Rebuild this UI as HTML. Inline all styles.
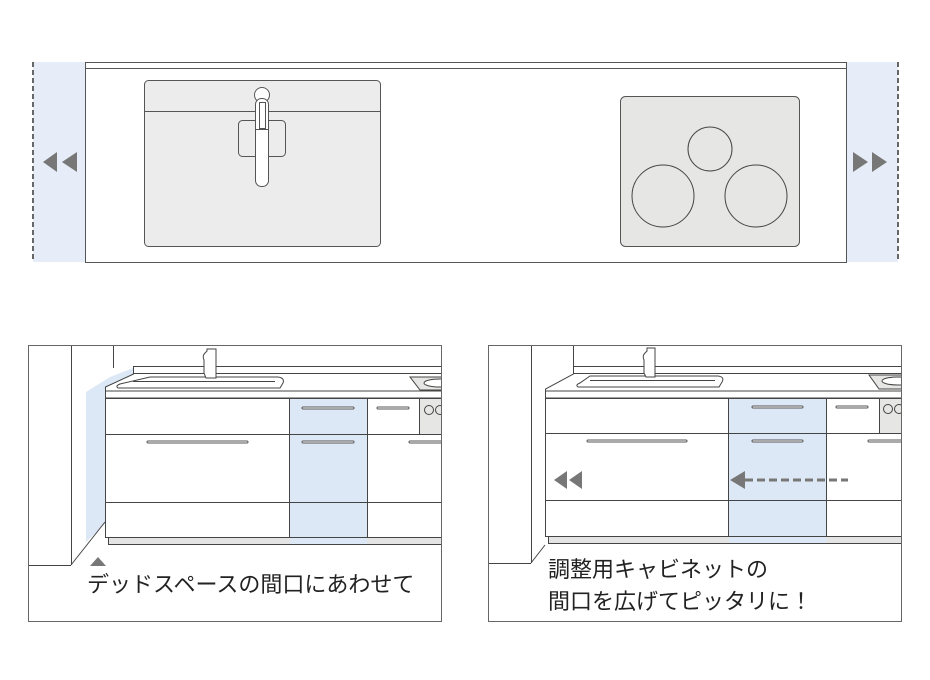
<!DOCTYPE html>
<html><head><meta charset="utf-8"><style>
html,body{margin:0;padding:0;background:#fff;}
svg{display:block}
text{font-family:"Liberation Sans","Noto Sans CJK JP",sans-serif;fill:#222;font-size:22px;}
</style></head><body>
<svg width="930" height="680" viewBox="0 0 930 680" xmlns="http://www.w3.org/2000/svg">
<defs>
<clipPath id="c1"><rect x="28" y="345" width="414" height="277"/></clipPath>
<clipPath id="c2"><rect x="488" y="345" width="414" height="277"/></clipPath>
</defs>
<!-- TOP -->
<rect x="33" y="62" width="52" height="200" fill="#e6edf8"/>
<rect x="846" y="62" width="52" height="200" fill="#e6edf8"/>
<line x1="33" y1="62" x2="33" y2="262" stroke="#666" stroke-width="2" stroke-dasharray="5,3"/>
<line x1="898" y1="62" x2="898" y2="262" stroke="#666" stroke-width="2" stroke-dasharray="5,3"/>
<rect x="85.5" y="62.5" width="761" height="200" fill="#fff" stroke="#555" stroke-width="1"/>
<line x1="85" y1="68.5" x2="846" y2="68.5" stroke="#555"/>
<rect x="144.5" y="80.5" width="236" height="166" rx="4" fill="#ececec" stroke="#555"/>
<line x1="144" y1="111.5" x2="380" y2="111.5" stroke="#555"/>
<rect x="238.5" y="120.5" width="47" height="36" rx="4" fill="#ececec" stroke="#555"/>
<circle cx="262" cy="95" r="7.5" fill="#fff" stroke="#555"/>
<rect x="255.5" y="98.5" width="13" height="88" rx="6" fill="#fff" stroke="#555"/>
<rect x="259.5" y="102.5" width="6" height="26" fill="#fff" stroke="#555"/>
<line x1="255" y1="129.5" x2="269" y2="129.5" stroke="#555"/>
<rect x="620.5" y="96.5" width="179" height="150" rx="5" fill="#e6e6e4" stroke="#555"/>
<circle cx="710" cy="149" r="22" fill="none" stroke="#444"/>
<circle cx="663" cy="196" r="31" fill="none" stroke="#444"/>
<circle cx="756" cy="196" r="31" fill="none" stroke="#444"/>
<polygon points="43,162 57,152 57,172" fill="#777"/>
<polygon points="62,162 77,152 77,172" fill="#777"/>
<polygon points="868,162 853,152 853,172" fill="#777"/>
<polygon points="887,162 872,152 872,172" fill="#777"/>

<!-- BOTTOM LEFT -->
<g clip-path="url(#c1)" stroke="#444" stroke-width="1">
<polygon points="86,392 110,377 133,368 133,374 105,388 105,524 86,542" fill="#dde8f6" stroke="none"/>
<line x1="71.5" y1="345" x2="71.5" y2="565"/>
<line x1="28" y1="565.5" x2="71" y2="565.5"/>
<line x1="71" y1="565" x2="105" y2="522"/>
<line x1="113.5" y1="345" x2="113.5" y2="368"/>
<polygon points="133.5,366.5 450,366.5 450,391 105.5,391 105.5,387 133.5,374" fill="#fff"/>
<line x1="133" y1="373.5" x2="450" y2="373.5"/>
<rect x="105.5" y="391" width="345" height="7" fill="#fff"/>
<path d="M150,377 L278,377 Q285,378 283,383 L280,388 L118,388 Q115,386 120,384 Z" fill="#fff"/>
<line x1="133" y1="381.5" x2="275" y2="381.5"/>
<path d="M204,373 L204,360 Q202,356 205,353 L207,351 L207,349 L216,349 L216,378 L206,378 Z" fill="#fff"/>
<polygon points="410,377 450,377 450,390 420,390" fill="#e6e6e4"/>
<ellipse cx="440" cy="383" rx="16" ry="4" fill="#fff"/>
<rect x="105.5" y="398.5" width="345" height="139" fill="#fff"/>
<rect x="289.5" y="398.5" width="78" height="139" fill="#dde8f6"/>
<rect x="419.5" y="398.5" width="30" height="36" fill="#e6e6e4"/>
<line x1="105" y1="434.5" x2="450" y2="434.5"/>
<line x1="105" y1="502.5" x2="450" y2="502.5"/>
<line x1="289.5" y1="398" x2="289.5" y2="545"/>
<line x1="367.5" y1="398" x2="367.5" y2="545"/>
<rect x="108.5" y="537.5" width="342" height="7" fill="#e4e4e4"/>
<rect x="290" y="538" width="77" height="6" fill="#dde8f6" stroke="none"/>
<circle cx="429" cy="410" r="4.5" fill="none"/>
<circle cx="440" cy="410" r="4.5" fill="none"/>
<g stroke="#555" stroke-width="3" stroke-linecap="round"><line x1="303" y1="408" x2="353" y2="408"/><line x1="378" y1="408" x2="408" y2="408"/><line x1="148" y1="442" x2="247" y2="442"/><line x1="303" y1="442" x2="353" y2="442"/><line x1="410" y1="442" x2="450" y2="442"/></g>
<g stroke="#fff" stroke-width="1" stroke-linecap="round"><line x1="303" y1="408" x2="353" y2="408"/><line x1="378" y1="408" x2="408" y2="408"/><line x1="148" y1="442" x2="247" y2="442"/><line x1="303" y1="442" x2="353" y2="442"/><line x1="410" y1="442" x2="450" y2="442"/></g>
</g>
<rect x="28.5" y="345.5" width="413" height="276" fill="none" stroke="#666"/>
<polygon points="98,557 90,566 106,566" fill="#777"/>
<text x="87" y="592">デッドスペースの間口にあわせて</text>

<!-- BOTTOM RIGHT -->
<g clip-path="url(#c2)" stroke="#444" stroke-width="1">
<line x1="531.5" y1="345" x2="531.5" y2="563"/>
<line x1="488" y1="563.5" x2="531" y2="563.5"/>
<line x1="531" y1="563" x2="545" y2="545"/>
<line x1="573.5" y1="345" x2="573.5" y2="367"/>
<polygon points="573.5,366.5 910,366.5 910,391 545.5,391 545.5,389 573.5,374" fill="#fff"/>
<line x1="573" y1="373.5" x2="910" y2="373.5"/>
<rect x="545.5" y="391" width="365" height="7" fill="#fff"/>
<path d="M590,376 L718,376 Q725,377 722,382 L719,387 L578,387 Q575,385 580,383 Z" fill="#fff"/>
<line x1="590" y1="380.5" x2="715" y2="380.5"/>
<path d="M644,373 L644,360 Q642,356 645,353 L647,351 L647,348 L655,348 L655,377 L646,377 Z" fill="#fff"/>
<polygon points="869,375 910,375 910,389 879,389" fill="#e6e6e4"/>
<ellipse cx="898" cy="381" rx="16" ry="4" fill="#fff"/>
<rect x="545.5" y="398.5" width="365" height="138" fill="#fff"/>
<rect x="728.5" y="398.5" width="98" height="138" fill="#dde8f6"/>
<rect x="879.5" y="398.5" width="30" height="35" fill="#e6e6e4"/>
<line x1="545" y1="433.5" x2="910" y2="433.5"/>
<line x1="545" y1="500.5" x2="910" y2="500.5"/>
<line x1="728.5" y1="398" x2="728.5" y2="544"/>
<line x1="826.5" y1="398" x2="826.5" y2="544"/>
<rect x="548.5" y="536.5" width="362" height="7" fill="#e4e4e4"/>
<rect x="729" y="537" width="97" height="6" fill="#dde8f6" stroke="none"/>
<circle cx="888" cy="409" r="4.5" fill="none"/>
<circle cx="899" cy="409" r="4.5" fill="none"/>
<g stroke="#555" stroke-width="3" stroke-linecap="round"><line x1="753" y1="407" x2="802" y2="407"/><line x1="837" y1="407" x2="867" y2="407"/><line x1="588" y1="441" x2="686" y2="441"/><line x1="753" y1="441" x2="802" y2="441"/><line x1="869" y1="441" x2="910" y2="441"/></g>
<g stroke="#fff" stroke-width="1" stroke-linecap="round"><line x1="753" y1="407" x2="802" y2="407"/><line x1="837" y1="407" x2="867" y2="407"/><line x1="588" y1="441" x2="686" y2="441"/><line x1="753" y1="441" x2="802" y2="441"/><line x1="869" y1="441" x2="910" y2="441"/></g>
</g>
<rect x="488.5" y="345.5" width="413" height="276" fill="none" stroke="#666"/>
<polygon points="554,480 567,471 567,489" fill="#777"/>
<polygon points="569,480 582,471 582,489" fill="#777"/>
<polygon points="730,480 745,471 745,489" fill="#777"/>
<line x1="745" y1="480" x2="848" y2="480" stroke="#777" stroke-width="3" stroke-dasharray="8,4"/>
<text x="548" y="577">調整用キャビネットの</text>
<text x="548" y="609">間口を広げてピッタリに！</text>
</svg>
</body></html>
